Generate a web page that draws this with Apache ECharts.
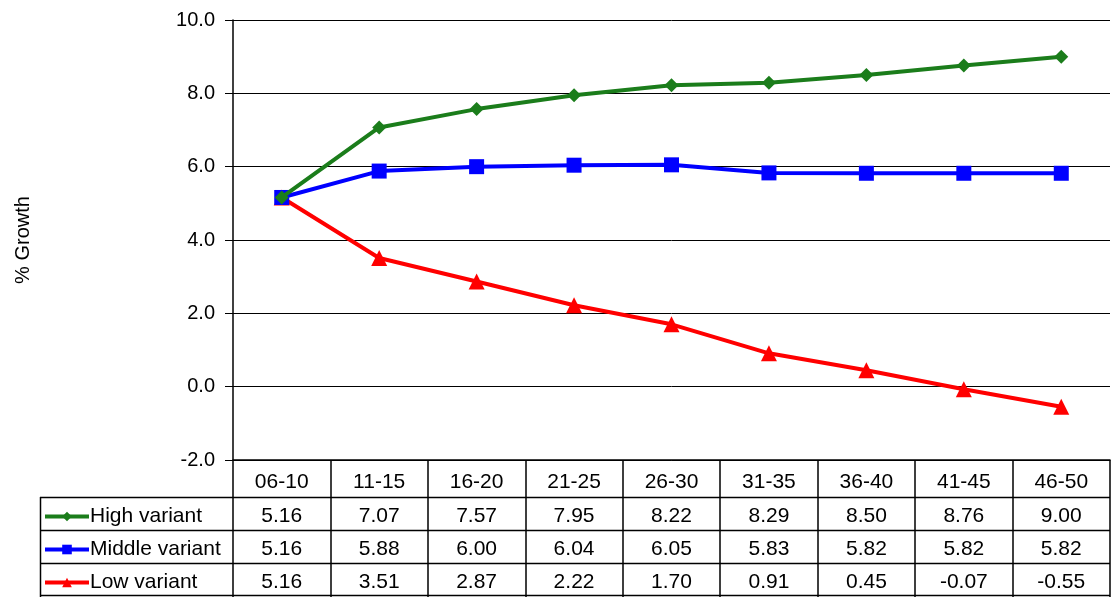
<!DOCTYPE html>
<html>
<head>
<meta charset="utf-8">
<script src="https://cdn.jsdelivr.net/npm/echarts@6/dist/echarts.min.js"></script>
<style>
  html, body { margin: 0; padding: 0; background: #fff; }
  #chart { width: 1113px; height: 597px; }
</style>
</head>
<body>
<div id="chart"></div>
<script>
// Projected growth by five-year period, three variants
const periods = ['06-10', '11-15', '16-20', '21-25', '26-30', '31-35', '36-40', '41-45', '46-50'];
const highVariant = [5.16, 7.07, 7.57, 7.95, 8.22, 8.29, 8.50, 8.76, 9.00];
const middleVariant = [5.16, 5.88, 6.00, 6.04, 6.05, 5.83, 5.82, 5.82, 5.82];
const lowVariant = [5.16, 3.51, 2.87, 2.22, 1.70, 0.91, 0.45, -0.07, -0.55];
const seriesNames = ['High variant', 'Middle variant', 'Low variant'];
const yTicks = [-2, 0, 2, 4, 6, 8, 10];

const FONT = 'Liberation Sans, Arial, sans-serif';
const colors = ['#1b7d1b', '#0000ff', '#ff0000'];
const symbols = ['diamond', 'rect', 'triangle'];
const symbolSizes = [14, 15, 16];
const seriesData = [highVariant, middleVariant, lowVariant];

// layout of the plot and the data table under it
const grid = { left: 233, right: 3, top: 20, bottom: 137 };
const headerH = 37, rowH = 33, tableLeft = 40;
const tableFont = 21;

const chart = echarts.init(document.getElementById('chart'), null, { renderer: 'canvas' });

// one legend per table row, acting as the row header
const legends = seriesNames.map((name, i) => ({
  orient: 'horizontal',
  left: 43,
  top: 597 - grid.bottom + headerH + i * rowH + 9,
  itemWidth: 44,
  itemHeight: 12,
  itemGap: 0,
  padding: 0,
  selectedMode: false,
  lineStyle: { width: 4 },
  textStyle: { fontSize: tableFont, color: '#000', fontFamily: FONT, padding: [0, 0, 0, -4] },
  data: [name]
}));

const option = {
  animation: false,
  backgroundColor: '#fff',
  textStyle: { fontFamily: FONT },
  grid: grid,
  legend: legends,
  xAxis: {
    type: 'category',
    data: periods,
    boundaryGap: true,
    axisLine: { onZero: false, lineStyle: { color: '#000', width: 1.5 } },
    axisTick: { show: true, length: 137, lineStyle: { color: '#000', width: 1.5 } },
    axisLabel: { margin: 12, fontSize: tableFont, color: '#000', fontFamily: FONT },
    splitLine: { show: false }
  },
  yAxis: {
    type: 'value',
    min: yTicks[0],
    max: yTicks[yTicks.length - 1],
    interval: 2,
    name: '% Growth',
    nameLocation: 'middle',
    nameRotate: 90,
    nameGap: 200,
    nameTextStyle: { fontSize: 20, color: '#000', fontFamily: FONT },
    axisLine: { show: true, lineStyle: { color: '#000', width: 1.5 } },
    axisTick: { show: true, length: 8, lineStyle: { color: '#000', width: 1 } },
    axisLabel: { margin: 18, fontSize: 20, color: '#000', fontFamily: FONT,
      formatter: v => v.toFixed(1) },
    splitLine: { show: true, lineStyle: { color: '#000', width: 1 } }
  },
  series: seriesNames.map((name, i) => ({
    name: name,
    type: 'line',
    data: seriesData[i],
    symbol: symbols[i],
    symbolSize: symbolSizes[i],
    lineStyle: { color: colors[i], width: 4 },
    itemStyle: { color: colors[i] },
    z: 5 - i
  }))
};
chart.setOption(option);

// Data table: value cells read from the same arrays, placed at each category column
function drawTable() {
  const W = chart.getWidth();
  const H = chart.getHeight();
  const right = W - grid.right;
  const topRows = H - grid.bottom + headerH;
  const els = [];
  for (let r = 0; r <= seriesNames.length; r++) {
    const y = Math.round(topRows + r * rowH) + 0.5 - (r === seriesNames.length ? 1 : 0);
    els.push({ type: 'line', shape: { x1: tableLeft, y1: y, x2: right, y2: y },
      style: { stroke: '#000', lineWidth: 1.5 }, silent: true });
  }
  els.push({ type: 'line', shape: { x1: tableLeft + 0.5, y1: topRows, x2: tableLeft + 0.5, y2: H },
    style: { stroke: '#000', lineWidth: 1.5 }, silent: true });
  seriesData.forEach((vals, r) => {
    vals.forEach((v, c) => {
      const x = chart.convertToPixel({ xAxisIndex: 0 }, periods[c]);
      els.push({ type: 'text', x: x, y: topRows + r * rowH + rowH / 2 + 3, silent: true,
        style: { text: v.toFixed(2), fill: '#000', fontSize: tableFont, fontFamily: FONT,
          align: 'center', verticalAlign: 'middle' } });
    });
  });
  chart.setOption({ graphic: { elements: els } });
}
drawTable();
</script>
</body>
</html>
